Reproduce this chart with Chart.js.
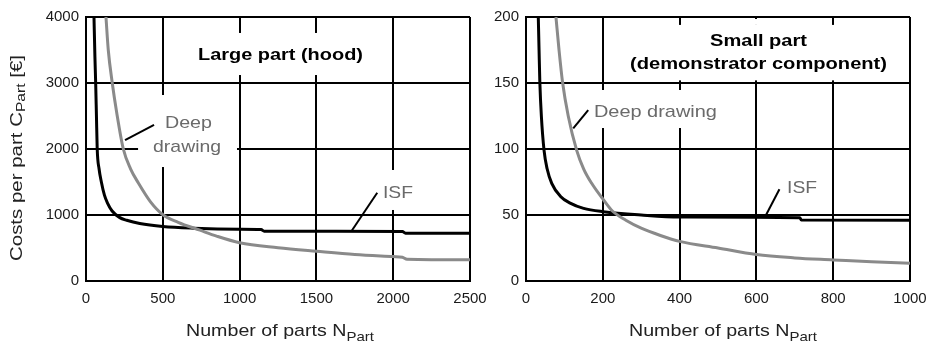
<!DOCTYPE html>
<html><head><meta charset="utf-8">
<script src="https://cdn.jsdelivr.net/npm/chart.js@4/dist/chart.umd.min.js"></script>
<style>
html,body{margin:0;padding:0;background:#fff;}
#wrap{position:relative;width:938px;height:343px;overflow:hidden;}
canvas{position:absolute;left:0;top:0;}
</style>
</head><body>
<div id="wrap"><canvas id="c1" width="938" height="343"></canvas><canvas id="c2" width="938" height="343"></canvas></div>
<script>
// ---------- data ----------
const seriesNames = ['ISF', 'Deep drawing'];

// Large part (hood)
const largeIsfN    = [52, 58, 63, 68, 73, 85, 100, 120, 140, 170, 220, 265, 350, 500, 700, 1000, 1140, 1160, 2060, 2080, 2500];
const largeIsfCost = [4000, 3400, 3000, 2500, 2000, 1700, 1500, 1300, 1180, 1060, 960, 920, 870, 825, 800, 785, 780, 755, 750, 725, 722];
const largeDdN     = [130, 145, 171, 200, 243, 290, 341, 420, 503, 600, 742, 850, 1000, 1250, 1500, 1750, 2000, 2060, 2090, 2500];
const largeDdCost  = [4000, 3500, 3000, 2550, 2000, 1700, 1485, 1200, 1000, 890, 770, 680, 580, 505, 450, 400, 370, 360, 330, 322];

// Small part (demonstrator component)
const smallIsfN    = [32, 34, 36, 40, 47, 55, 67, 90, 115, 150, 201, 300, 400, 713, 717, 1000];
const smallIsfCost = [200, 175, 151, 125, 99, 85, 74, 64, 59, 55, 52.5, 50, 48.5, 48, 46.3, 46];
const smallDdN     = [78, 86, 95, 110, 132, 150, 171, 203, 225, 260, 300, 350, 400, 500, 600, 700, 800, 900, 1000];
const smallDdCost  = [200, 175, 151, 125, 99, 85, 74, 61, 53, 46, 40, 34.5, 30, 25, 20, 17.5, 16, 14.5, 13.4];

// tick labels
const largeXTicks = [0, 500, 1000, 1500, 2000, 2500];
const largeYTicks = [0, 1000, 2000, 3000, 4000];
const smallXTicks = [0, 200, 400, 600, 800, 1000];
const smallYTicks = [0, 50, 100, 150, 200];

// texts
const largeTitle = ['Large part (hood)'];
const smallTitle = ['Small part', '(demonstrator component)'];
const xTitle = ['Number of parts N', 'Part'];
const yTitle = ['Costs per part C', 'Part', ' [€]'];

// ---------- helpers ----------
const GREY_LINE = '#8a8a8a';
const GREY_TEXT = '#6a6a6a';
const FONT = '"Liberation Sans", Arial, sans-serif';

function pts(xs, ys) { return xs.map((x, i) => ({ x: x, y: ys[i] })); }

function drawLabel(ctx, text, cx, by, font, color, targetW) {
  ctx.save();
  ctx.font = font;
  const w = ctx.measureText(text).width;
  const s = targetW ? targetW / w : 1;
  ctx.translate(cx, by);
  ctx.scale(s, 1);
  ctx.textAlign = 'center';
  ctx.textBaseline = 'alphabetic';
  ctx.fillStyle = color;
  ctx.fillText(text, 0, 0);
  ctx.restore();
}

function drawRich(ctx, parts, cx, by, rot, targetW, color) {
  ctx.save();
  let total = 0;
  const ws = parts.map(p => { ctx.font = p.size + 'px ' + FONT; const w = ctx.measureText(p.t).width; total += w; return w; });
  const s = targetW / total;
  ctx.translate(cx, by);
  ctx.rotate(rot);
  ctx.scale(s, 1);
  ctx.fillStyle = color;
  ctx.textAlign = 'left';
  ctx.textBaseline = 'alphabetic';
  let x = -total / 2;
  parts.forEach((p, i) => {
    ctx.font = p.size + 'px ' + FONT;
    ctx.fillText(p.t, x, p.dy || 0);
    x += ws[i];
  });
  ctx.restore();
}

function makeAnnotPlugin(spec) {
  return {
    id: 'annot_' + spec.id,
    beforeDatasetsDraw(chart) {
      const ctx = chart.ctx, xs = chart.scales.x, ys = chart.scales.y;
      ctx.save();
      ctx.fillStyle = '#fff';
      spec.boxes.forEach(b => {
        const x0 = xs.getPixelForValue(b[0]), x1 = xs.getPixelForValue(b[1]);
        const y0 = ys.getPixelForValue(b[3]), y1 = ys.getPixelForValue(b[2]);
        ctx.fillRect(x0, y0, x1 - x0, y1 - y0);
      });
      ctx.restore();
    },
    afterDatasetsDraw(chart) {
      const ctx = chart.ctx, xs = chart.scales.x, ys = chart.scales.y;
      spec.texts.forEach(t => {
        drawLabel(ctx, t.t, xs.getPixelForValue(t.x), ys.getPixelForValue(t.y),
          (t.bold ? 'bold ' : '') + '17px ' + FONT, t.color, t.w);
      });
      ctx.save();
      ctx.strokeStyle = '#000';
      ctx.lineWidth = 2;
      spec.leaders.forEach(l => {
        ctx.beginPath();
        ctx.moveTo(xs.getPixelForValue(l[0]), ys.getPixelForValue(l[1]));
        ctx.lineTo(xs.getPixelForValue(l[2]), ys.getPixelForValue(l[3]));
        ctx.stroke();
      });
      ctx.restore();
    },
    afterDraw(chart) {
      const ctx = chart.ctx, a = chart.chartArea;
      drawRich(ctx, [{ t: xTitle[0], size: 17 }, { t: xTitle[1], size: 13, dy: 5 }],
        (a.left + a.right) / 2 + spec.xTitleShift, 336, 0, 188, '#222');
      if (spec.yTitle) {
        drawRich(ctx, [{ t: yTitle[0], size: 17 }, { t: yTitle[1], size: 13, dy: 3 }, { t: yTitle[2], size: 17 }],
          22, (a.top + a.bottom) / 2 + 9, -Math.PI / 2, 206, '#222');
      }
    }
  };
}

function makeChart(canvasId, opts) {
  const tickFont = { family: FONT, size: 15 };
  return new Chart(document.getElementById(canvasId), {
    type: 'scatter',
    data: {
      datasets: [
        { label: seriesNames[0], data: opts.isf, showLine: true, borderColor: '#000', borderWidth: 3,
          pointRadius: 0, cubicInterpolationMode: 'monotone', order: 1 },
        { label: seriesNames[1], data: opts.dd, showLine: true, borderColor: GREY_LINE, borderWidth: 3,
          pointRadius: 0, cubicInterpolationMode: 'monotone', order: 0 }
      ]
    },
    options: {
      responsive: false,
      animation: false,
      devicePixelRatio: 1,
      layout: { padding: opts.padding },
      plugins: { legend: { display: false }, tooltip: { enabled: false } },
      scales: {
        x: {
          type: 'linear', min: opts.xTicks[0], max: opts.xTicks[opts.xTicks.length - 1],
          afterBuildTicks: s => { s.ticks = opts.xTicks.map(v => ({ value: v })); },
          afterFit: s => { s.height = 62; },
          grid: { color: '#000', lineWidth: 2, drawTicks: false },
          border: { color: '#000', width: 2 },
          ticks: { font: tickFont, color: '#1a1a1a', padding: 9, maxRotation: 0, autoSkip: false,
                   callback: v => String(v) }
        },
        y: {
          type: 'linear', min: opts.yTicks[0], max: opts.yTicks[opts.yTicks.length - 1],
          afterBuildTicks: s => { s.ticks = opts.yTicks.map(v => ({ value: v })); },
          afterFit: s => { s.width = opts.yWidth; },
          grid: { color: '#000', lineWidth: 2, drawTicks: false },
          border: { color: '#000', width: 2 },
          ticks: { font: tickFont, color: '#1a1a1a', padding: 7, autoSkip: false,
                   callback: v => String(v) }
        }
      }
    },
    plugins: [makeAnnotPlugin(opts.annot)]
  });
}

makeChart('c1', {
  isf: pts(largeIsfN, largeIsfCost),
  dd: pts(largeDdN, largeDdCost),
  xTicks: largeXTicks, yTicks: largeYTicks,
  padding: { left: 0, right: 468, top: 17, bottom: 0 },
  yWidth: 86,
  annot: {
    id: 'large', xTitleShift: 2, yTitle: true,
    boxes: [[677, 1849, 3121, 3758], [339, 983, 1727, 2818], [1901, 2161, 1076, 1682]],
    texts: [
      { t: largeTitle[0], x: 1266, y: 3341, bold: true, color: '#000', w: 165 },
      { t: 'Deep', x: 667, y: 2314, color: GREY_TEXT, w: 47 },
      { t: 'drawing', x: 658, y: 1962, color: GREY_TEXT, w: 68 },
      { t: seriesNames[0], x: 2031, y: 1265, color: GREY_TEXT, w: 30 }
    ],
    leaders: [[443, 2364, 254, 2136], [1896, 1338, 1730, 762]]
  }
});

makeChart('c2', {
  isf: pts(smallIsfN, smallIsfCost),
  dd: pts(smallDdN, smallDdCost),
  xTicks: smallXTicks, yTicks: smallYTicks,
  padding: { left: 476, right: 28, top: 17, bottom: 0 },
  yWidth: 50,
  annot: {
    id: 'small', xTitleShift: 5, yTitle: false,
    boxes: [[453, 753, 194, 198.5], [260, 948, 152, 194], [167, 510, 115.9, 144.7]],
    texts: [
      { t: smallTitle[0], x: 605.5, y: 177.7, bold: true, color: '#000', w: 97 },
      { t: smallTitle[1], x: 605.5, y: 160.6, bold: true, color: '#000', w: 257 },
      { t: seriesNames[1], x: 337, y: 123.9, color: GREY_TEXT, w: 123 },
      { t: seriesNames[0], x: 719, y: 66.3, color: GREY_TEXT, w: 30 }
    ],
    leaders: [[162, 129.5, 123, 115.7], [660, 69.5, 622, 48.3]]
  }
});
</script>
</body></html>
